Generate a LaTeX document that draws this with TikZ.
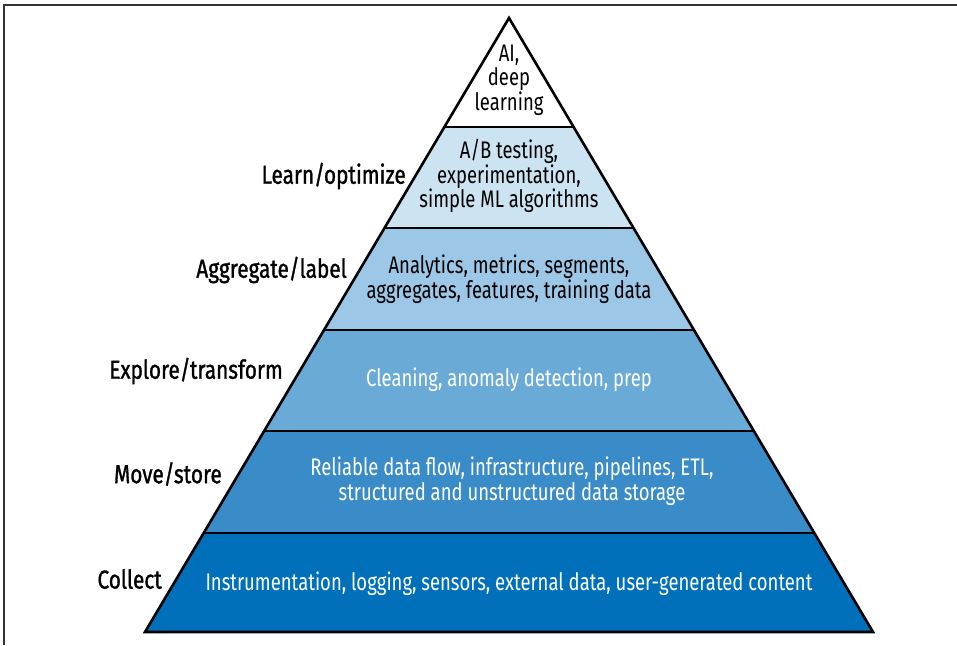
\documentclass[tikz,border=0pt]{standalone}
\usepackage{fontspec}
\setmainfont{Fira Sans}[FakeStretch=0.77]
\newfontfamily\labfont{Fira Sans}[FakeStretch=0.8,FakeBold=1.2]
\definecolor{c1}{HTML}{0070BB}
\definecolor{c2}{HTML}{3A8CC8}
\definecolor{c3}{HTML}{6AAAD7}
\definecolor{c4}{HTML}{9CC7E6}
\definecolor{c5}{HTML}{CCE3F2}
\definecolor{framec}{HTML}{333333}
\begin{document}
\begin{tikzpicture}[x=1pt,y=-1pt,
  layer/.style={draw=black,line width=2.6pt,line join=miter},
  body/.style={align=center,font=\fontsize{24}{24.5}\selectfont,inner sep=0pt},
  wbody/.style={body,text=white},
  lab/.style={anchor=east,font=\labfont\fontsize{26}{28}\selectfont,inner sep=0pt}]
\useasboundingbox (0,0) rectangle (957,645);
% frame (left and top edges)
\draw[framec,line width=1.8pt] (4,645) -- (4,5) -- (957,5);
% layers
\fill[c1] (203.7,533) -- (814.3,533) -- (873,632) -- (145,632) -- cycle;
\fill[c2] (264.2,431) -- (753.8,431) -- (814.3,533) -- (203.7,533) -- cycle;
\fill[c3] (324.0,330) -- (694.0,330) -- (753.8,431) -- (264.2,431) -- cycle;
\fill[c4] (384.5,228) -- (633.5,228) -- (694.0,330) -- (324.0,330) -- cycle;
\fill[c5] (444.4,127) -- (573.6,127) -- (633.5,228) -- (384.5,228) -- cycle;
\fill[white] (509,18) -- (573.6,127) -- (444.4,127) -- cycle;
\draw[layer] (444.4,127) -- (573.6,127);
\draw[layer] (384.5,228) -- (633.5,228);
\draw[layer] (324.0,330) -- (694.0,330);
\draw[layer] (264.2,431) -- (753.8,431);
\draw[layer] (203.7,533) -- (814.3,533);
\draw[layer] (509,18) -- (873,632) -- (145,632) -- cycle;
% texts
\node[body] (t6) at (509,80) {AI,\\deep\\learning};
\node[body] (t5) at (509,176) {A/B testing,\\experimentation,\\simple ML algorithms};
\node[body] (t4) at (509,279) {Analytics, metrics, segments,\\aggregates, features, training data};
\node[wbody] (t3) at (509,380) {Cleaning, anomaly detection, prep};
\node[wbody] (t2) at (512,481) {Reliable data flow, infrastructure, pipelines, ETL,\\structured and unstructured data storage};
\node[wbody] (t1) at (509,584) {Instrumentation, logging, sensors, external data, user-generated content};
% labels
\node[lab] (l5) at (406,176) {Learn/optimize};
\node[lab] (l4) at (347,270) {Aggregate/label};
\node[lab] (l3) at (283,371) {Explore/transform};
\node[lab] (l2) at (222,474) {Move/store};
\node[lab] (l1) at (162,579) {Collect};
\end{tikzpicture}
\end{document}
